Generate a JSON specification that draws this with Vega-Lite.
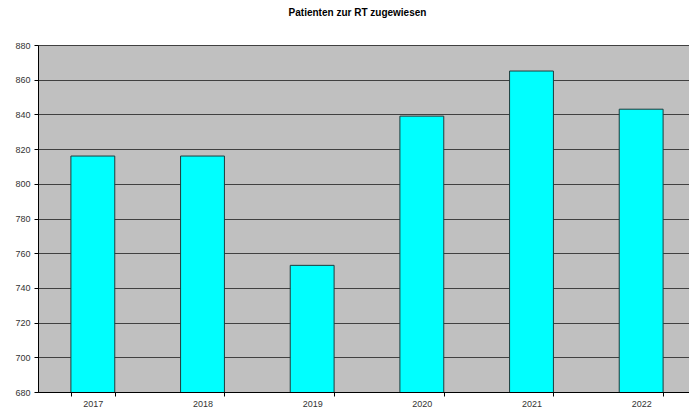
{
  "$schema": "https://vega.github.io/schema/vega-lite/v6.json",
  "autosize": "none",
  "width": 651,
  "height": 347,
  "padding": {"left": 38, "top": 45, "right": 0, "bottom": 18},
  "background": "white",
  "title": {
    "text": "Patienten zur RT zugewiesen",
    "font": "Liberation Sans",
    "fontSize": 10,
    "fontWeight": "bold",
    "color": "#000000",
    "anchor": "middle",
    "dx": -6,
    "offset": 23
  },
  "config": {
    "view": {"fill": "#C0C0C0", "stroke": "#8a8a8a", "strokeWidth": 1},
    "axis": {
      "labelFont": "Liberation Sans",
      "labelFontSize": 9,
      "labelColor": "#333333",
      "domainColor": "#000000",
      "tickColor": "#000000",
      "tickSize": 4,
      "title": null
    }
  },
  "data": {
    "values": [
      {"year": "2017", "patients": 816},
      {"year": "2018", "patients": 816},
      {"year": "2019", "patients": 753},
      {"year": "2020", "patients": 839},
      {"year": "2021", "patients": 865},
      {"year": "2022", "patients": 843}
    ]
  },
  "mark": {"type": "bar", "fill": "#00FFFF", "stroke": "#1e3c3c", "strokeWidth": 1, "clip": true},
  "encoding": {
    "x": {
      "field": "year",
      "type": "ordinal",
      "scale": {"range": [0, 658], "paddingInner": 0.6, "paddingOuter": 0.3},
      "axis": {
        "labelAngle": 0,
        "tickBand": "extent",
        "grid": false,
        "labelPadding": 3,
        "domainColor": "#000000"
      }
    },
    "y": {
      "field": "patients",
      "type": "quantitative",
      "scale": {"domain": [680, 880], "zero": false, "nice": false},
      "axis": {
        "values": [680, 700, 720, 740, 760, 780, 800, 820, 840, 860, 880],
        "grid": true,
        "gridColor": "#404040",
        "gridWidth": 1,
        "gridOpacity": 1,
        "labelPadding": 4
      }
    }
  }
}
